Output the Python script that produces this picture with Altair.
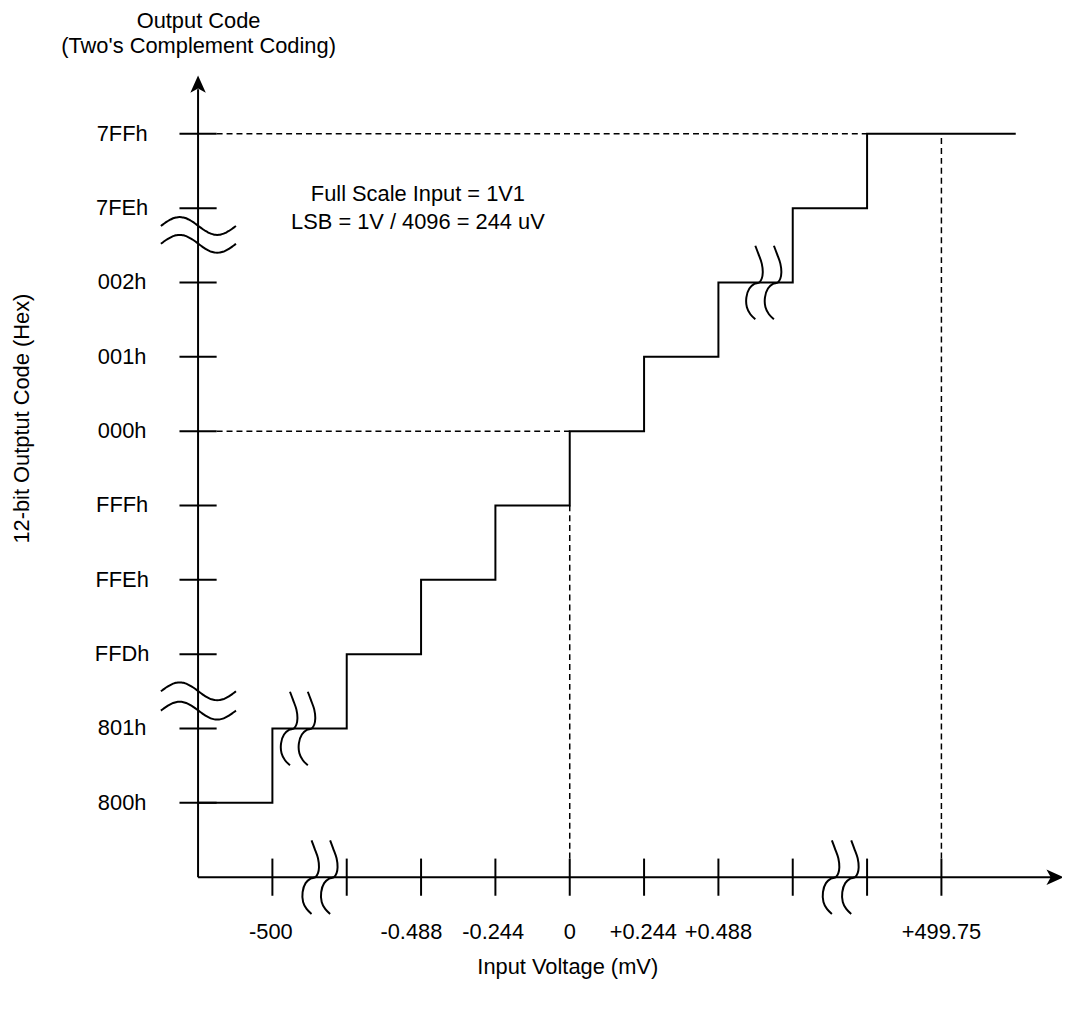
import altair as alt
import pandas as pd
import numpy as np

# ---------------- data ----------------
y_codes = ["800h", "801h", "FFDh", "FFEh", "FFFh", "000h", "001h", "002h", "7FEh", "7FFh"]
y_levels = [1, 2, 3, 4, 5, 6, 7, 8, 9, 10]
x_tick_pos = [1, 2, 3, 4, 5, 6, 7, 8, 9, 10]
x_labels = ["-500", "-0.488", "-0.244", "0", "+0.244", "+0.488", "+499.75"]
x_label_pos = [0.98, 2.87, 3.97, 5.0, 5.99, 7.0, 10.0]
# transfer function (step-after): input index -> output code level
step_x = [0, 1, 2, 3, 4, 5, 6, 7, 8, 9, 11]
step_y = [1, 2, 3, 4, 5, 6, 7, 8, 9, 10, 10]
# axis-break positions
ybreak_centers = [8.76, 8.52, 2.50, 2.24]
xaxis_breaks = [1.58, 1.83, 8.58, 8.84]
step_breaks_x = [1.29, 1.53, 7.55, 7.80]
step_breaks_y = [2, 2, 8, 8]

# ---------------- layout helpers ----------------
PX = 74.9            # pixels per unit
OX, OY = 199.5, 880  # page pixel of origin
W, H = 1062, 990
FONT = "Liberation Sans"
FS = 22


def to_i(px):
    return (px - OX) / PX


def to_j(py):
    return (OY - py) / PX


X0, X1 = to_i(8), to_i(8 + W)
Y1, Y0 = to_j(8), to_j(8 + H)
xs = alt.Scale(domain=[X0, X1], nice=False, zero=False)
ys = alt.Scale(domain=[Y0, Y1], nice=False, zero=False)


def ex(f="x"):
    return alt.X(f"{f}:Q", scale=xs, axis=None)


def ey(f="y"):
    return alt.Y(f"{f}:Q", scale=ys, axis=None)


# ---------------- segments ----------------
T = 0.25
segs = []
segs.append((0, 0, 0, to_j(86)))          # y axis
segs.append((0, 0, to_i(1060), 0))        # x axis
for lv in y_levels:
    segs.append((-T, lv, T, lv))
for tx in x_tick_pos:
    segs.append((tx, -T, tx, T))
seg_df = pd.DataFrame(segs, columns=["x", "y", "x2", "y2"])

solid = alt.Chart(seg_df).mark_rule(color="black", strokeWidth=2).encode(
    x=ex(), y=ey(), x2="x2:Q", y2="y2:Q")

dash_df = pd.DataFrame([
    (T, 10, 9, 10),
    (T, 6, 5, 6),
    (10, T, 10, 10),
    (5, T, 5, 5),
], columns=["x", "y", "x2", "y2"])
dashed = alt.Chart(dash_df).mark_rule(color="black", strokeWidth=1.5, strokeDash=[6, 4]).encode(
    x=ex(), y=ey(), x2="x2:Q", y2="y2:Q")

step_df = pd.DataFrame({"x": step_x, "y": step_y})
step = alt.Chart(step_df).mark_line(color="black", strokeWidth=2, interpolate="step-after").encode(
    x=ex(), y=ey())

# ---------------- break symbols ----------------
rows = []
t = np.linspace(0, 1, 41)
for k, c in enumerate(ybreak_centers):
    for n, tt in enumerate(t):
        rows.append((f"w{k}", n, -0.5 + tt * 1.01, c + 0.12 * np.sin(2 * np.pi * tt)))

bdx = [-4, -1, 2.5, 3.5, 2.5, 0, -5, -10, -13, -12.5, -9, -4]
bdy = [-37, -29, -19, -10, -4, 0, 1.5, 6, 15, 25, 32, 37]
brace_pts = [(x, 0) for x in xaxis_breaks] + list(zip(step_breaks_x, step_breaks_y))
for k, (bx, by) in enumerate(brace_pts):
    for n, (dx, dy) in enumerate(zip(bdx, bdy)):
        rows.append((f"b{k}", n, bx + dx / PX, by - dy / PX))
brk_df = pd.DataFrame(rows, columns=["g", "o", "x", "y"])
breaks = alt.Chart(brk_df).mark_line(color="black", strokeWidth=2, interpolate="catmull-rom").encode(
    x=ex(), y=ey(), detail="g:N", order="o:Q")

# ---------------- arrows ----------------
up_df = pd.DataFrame({"x": [0], "y": [to_j(81)]})
arrow_up = alt.Chart(up_df).mark_point(
    shape="M0,-1L0.9,1L0,0.5L-0.9,1Z", filled=True, size=300, color="black", opacity=1
).encode(x=ex(), y=ey())
right_df = pd.DataFrame({"x": [to_i(1063)], "y": [0]})
arrow_right = alt.Chart(right_df).mark_point(
    shape="M1,0L-1,0.9L-0.5,0L-1,-0.9Z", filled=True, size=300, color="black", opacity=1
).encode(x=ex(), y=ey())

# ---------------- texts ----------------
ylab_df = pd.DataFrame({"x": [to_i(123)] * len(y_levels), "y": y_levels, "t": y_codes})
ylabels = alt.Chart(ylab_df).mark_text(font=FONT, fontSize=FS, align="center", baseline="middle",
                                       color="black").encode(x=ex(), y=ey(), text="t:N")

xlab_df = pd.DataFrame({"x": x_label_pos, "y": [to_j(935)] * len(x_labels), "t": x_labels})
xlabels = alt.Chart(xlab_df).mark_text(font=FONT, fontSize=FS, align="center", baseline="middle",
                                       color="black").encode(x=ex(), y=ey(), text="t:N")

txt_df = pd.DataFrame({
    "x": [to_i(200), to_i(200), to_i(572), to_i(421), to_i(421)],
    "y": [to_j(17), to_j(43), to_j(971), to_j(192), to_j(220)],
    "t": ["Output Code", "(Two's Complement Coding)", "Input Voltage (mV)",
          "Full Scale Input = 1V1", "LSB = 1V / 4096 = 244 uV"],
})
texts = alt.Chart(txt_df).mark_text(font=FONT, fontSize=FS, align="center", baseline="middle",
                                    color="black").encode(x=ex(), y=ey(), text="t:N")

ytitle_df = pd.DataFrame({"x": [to_i(22)], "y": [to_j(418)], "t": ["12-bit Outptut Code (Hex)"]})
ytitle = alt.Chart(ytitle_df).mark_text(font=FONT, fontSize=FS, align="center", baseline="middle",
                                        angle=270, color="black").encode(x=ex(), y=ey(), text="t:N")

chart = alt.layer(
    dashed, solid, step, breaks, arrow_up, arrow_right, ylabels, xlabels, texts, ytitle
).properties(
    width=W, height=H, autosize=alt.AutoSizeParams(type="none"), padding=0, background="white"
).configure_view(stroke=None)

chart.save("out.html", embed_options={"renderer": "svg", "actions": False})
